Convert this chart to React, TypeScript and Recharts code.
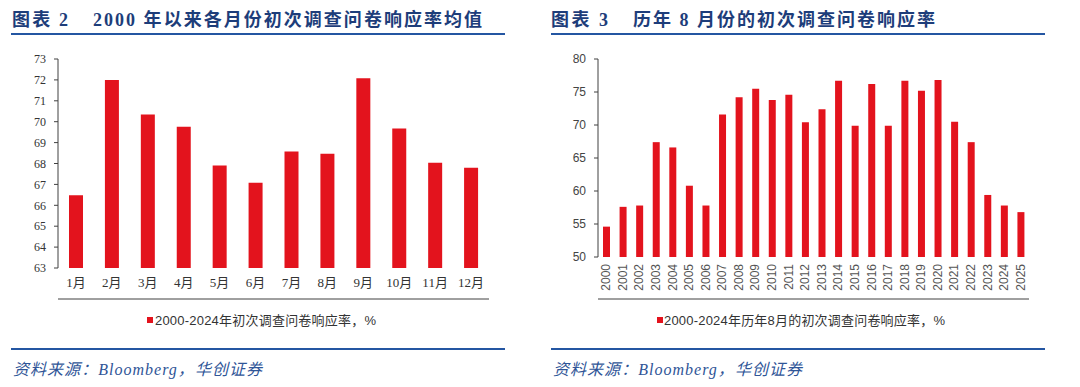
import React from 'react';
import { BarChart, Bar, XAxis, YAxis } from 'recharts';

const months = ['1月', '2月', '3月', '4月', '5月', '6月', '7月', '8月', '9月', '10月', '11月', '12月'];
const monthAvg = [66.48, 72.0, 70.35, 69.76, 67.9, 67.08, 68.58, 68.47, 72.08, 69.67, 68.03, 67.8];
const leftTicks = [63, 64, 65, 66, 67, 68, 69, 70, 71, 72, 73];

const years = ['2000', '2001', '2002', '2003', '2004', '2005', '2006', '2007', '2008', '2009', '2010', '2011', '2012',
  '2013', '2014', '2015', '2016', '2017', '2018', '2019', '2020', '2021', '2022', '2023', '2024', '2025'];
const augRate = [54.6, 57.6, 57.8, 67.4, 66.6, 60.8, 57.8, 71.6, 74.2, 75.5, 73.8, 74.6, 70.4,
  72.4, 76.7, 69.9, 76.2, 69.9, 76.7, 75.2, 76.8, 70.5, 67.4, 59.4, 57.8, 56.8];
const rightTicks = [50, 55, 60, 65, 70, 75, 80];

const leftData = months.map((m, i) => ({ m, v: monthAvg[i] }));
const rightData = years.map((y, i) => ({ y, v: augRate[i] }));
const leftGrid = months.map((_, i) => i).concat([months.length]);
const rightGrid = years.map((_, i) => i).concat([years.length]);

const RED = '#E3131D';
const AXIS = '#404040';
const SERIF = "'Liberation Serif', 'DejaVu Serif', 'Noto Sans CJK SC', serif";
const SANS = "'Liberation Sans', 'Noto Sans CJK SC', sans-serif";
const TITLE = '#1D3D7A';
const LINE = '#2456A2';
const SRC = '#2F5597';

const YearTick = (props: any) => {
  const { x, y, payload } = props;
  return (
    <g transform={`translate(${x},${y})`}>
      <text transform="rotate(-90)" x={0} y={0} dy={4} textAnchor="end" fill="#555" fontSize={12} fontFamily={SANS}>
        {payload.value}
      </text>
    </g>
  );
};

export default function App() {
  return (
    <div style={{ position: 'absolute', left: 0, top: 0, width: 1080, height: 387, background: '#fff', overflow: 'hidden' }}>
      <svg width={1080} height={387} style={{ position: 'absolute', left: 0, top: 0 }}>
        {/* Titles */}
        <text x={12} y={26} fontSize={18} fontWeight="bold" fill={TITLE} fontFamily={SERIF} textLength={56} lengthAdjust="spacing">图表 2</text>
        <text x={93} y={26} fontSize={18} fontWeight="bold" fill={TITLE} fontFamily={SERIF} textLength={389} lengthAdjust="spacing">2000 年以来各月份初次调查问卷响应率均值</text>
        <text x={551} y={26} fontSize={18} fontWeight="bold" fill={TITLE} fontFamily={SERIF} textLength={57} lengthAdjust="spacing">图表 3</text>
        <text x={633} y={26} fontSize={18} fontWeight="bold" fill={TITLE} fontFamily={SERIF} textLength={302} lengthAdjust="spacing">历年 8 月份的初次调查问卷响应率</text>
        <line x1={11} x2={505} y1={34} y2={34} stroke={LINE} strokeWidth={2} />
        <line x1={551} x2={1045} y1={34} y2={34} stroke={LINE} strokeWidth={2} />
        {/* Legends */}
        <rect x={147} y={317} width={6} height={6} fill={RED} />
        <text x={155} y={325} fontSize={13} fill="#333" fontFamily={SANS} textLength={221} lengthAdjust="spacing">2000-2024年初次调查问卷响应率，%</text>
        <rect x={657} y={317} width={6} height={6} fill={RED} />
        <text x={664} y={325} fontSize={13} fill="#333" fontFamily={SANS} textLength={281} lengthAdjust="spacing">2000-2024年历年8月的初次调查问卷响应率，%</text>
        {/* Bottom rules and sources */}
        <line x1={11} x2={505} y1={349} y2={349} stroke={LINE} strokeWidth={2} />
        <line x1={551} x2={1045} y1={349} y2={349} stroke={LINE} strokeWidth={2} />
        <text x={13} y={375} fontSize={16} fontStyle="italic" fill={SRC} fontFamily={SERIF} textLength={249} lengthAdjust="spacing">资料来源：Bloomberg，华创证券</text>
        <text x={553} y={375} fontSize={16} fontStyle="italic" fill={SRC} fontFamily={SERIF} textLength={249} lengthAdjust="spacing">资料来源：Bloomberg，华创证券</text>
      </svg>

      <div style={{ position: 'absolute', left: 0, top: 0 }}>
        <BarChart width={540} height={300} data={leftData} margin={{ top: 59, right: 51, bottom: 0, left: 0 }}>
          <XAxis xAxisId="grid" type="number" domain={[0, months.length]} ticks={leftGrid} allowDataOverflow
            tick={false} tickSize={4} interval={0} height={1} stroke={AXIS} />
          <XAxis xAxisId="cat" dataKey="m" type="category" height={31} axisLine={false} tickLine={false}
            tickSize={0} tickMargin={10} interval={0}
            tick={{ fontSize: 13, fill: '#333', fontFamily: SERIF }} />
          <YAxis domain={[63, 73]} ticks={leftTicks} interval={0} width={58} tickSize={4} tickMargin={8}
            stroke={AXIS} tick={{ fontSize: 12, fill: '#333', fontFamily: SERIF }} allowDataOverflow />
          <Bar xAxisId="cat" dataKey="v" fill={RED} barSize={14} isAnimationActive={false} />
        </BarChart>
      </div>

      <div style={{ position: 'absolute', left: 540, top: 0 }}>
        <BarChart width={540} height={300} data={rightData} margin={{ top: 59, right: 51, bottom: 0, left: 0 }}>
          <XAxis xAxisId="grid" type="number" domain={[0, years.length]} ticks={rightGrid} allowDataOverflow
            tick={false} tickSize={4} interval={0} height={1} stroke={AXIS} />
          <XAxis xAxisId="cat" dataKey="y" type="category" height={42} axisLine={false} tickLine={false}
            tickSize={0} tickMargin={7} interval={0} tick={<YearTick />} />
          <YAxis domain={[50, 80]} ticks={rightTicks} interval={0} width={58} tickSize={4} tickMargin={8}
            stroke={AXIS} tick={{ fontSize: 12, fill: '#444', fontFamily: SANS }} allowDataOverflow />
          <Bar xAxisId="cat" dataKey="v" fill={RED} barSize={7} isAnimationActive={false} />
        </BarChart>
      </div>
    </div>
  );
}
